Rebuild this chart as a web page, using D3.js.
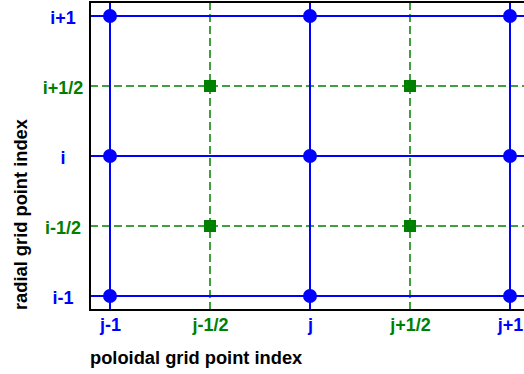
<!DOCTYPE html>
<html>
<head>
<meta charset="utf-8">
<script src="https://cdn.jsdelivr.net/npm/d3@7"></script>
<style>
  html, body { margin: 0; padding: 0; background: #fff; }
  svg { display: block; }
  text { font-family: "Liberation Sans", Arial, sans-serif; font-weight: bold; }
</style>
</head>
<body>
<svg id="chart" width="524" height="374"></svg>
<script>
// Staggered grid: integer nodes (blue) and half-index cell centres (green)
const nodeJ = [-1, 0, 1];
const nodeI = [-1, 0, 1];
const halfJ = [-0.5, 0.5];
const halfI = [-0.5, 0.5];

const xTickValues = [-1, -0.5, 0, 0.5, 1];
const xTickLabels = ["j-1", "j-1/2", "j", "j+1/2", "j+1"];
const yTickValues = [-1, -0.5, 0, 0.5, 1];
const yTickLabels = ["i-1", "i-1/2", "i", "i+1/2", "i+1"];

const xTitle = "poloidal grid point index";
const yTitle = "radial grid point index";

const BLUE = "#0000ff";
const GREEN = "#008000";

const svg = d3.select("#chart");

const x = d3.scaleLinear().domain([-1.1, 1.1]).range([90, 530]);
const y = d3.scaleLinear().domain([-1.1, 1.1]).range([310, 2]);

const [x0, x1] = x.range();
const [y0, y1] = y.range();

svg.append("defs").append("clipPath").attr("id", "plot-clip")
  .append("rect").attr("x", x0).attr("y", y1).attr("width", x1 - x0).attr("height", y0 - y1);

const plot = svg.append("g").attr("clip-path", "url(#plot-clip)");

const isHalf = v => Math.abs(v % 1) === 0.5;

// dashed half-index lines
plot.selectAll("line.hj").data(halfJ).join("line")
  .attr("x1", d => x(d)).attr("x2", d => x(d))
  .attr("y1", y0).attr("y2", y1)
  .attr("stroke", GREEN).attr("stroke-width", 1.5).attr("stroke-dasharray", "8,4");
plot.selectAll("line.hi").data(halfI).join("line")
  .attr("y1", d => y(d)).attr("y2", d => y(d))
  .attr("x1", x0).attr("x2", x1)
  .attr("stroke", GREEN).attr("stroke-width", 1.5).attr("stroke-dasharray", "8,4");

// solid node lines
plot.selectAll("line.nj").data(nodeJ).join("line")
  .attr("x1", d => x(d)).attr("x2", d => x(d))
  .attr("y1", y0).attr("y2", y1)
  .attr("stroke", BLUE).attr("stroke-width", 2);
plot.selectAll("line.ni").data(nodeI).join("line")
  .attr("y1", d => y(d)).attr("y2", d => y(d))
  .attr("x1", x0).attr("x2", x1)
  .attr("stroke", BLUE).attr("stroke-width", 2);

// node markers
const nodes = d3.cross(nodeJ, nodeI);
plot.selectAll("circle.node").data(nodes).join("circle")
  .attr("cx", d => x(d[0])).attr("cy", d => y(d[1]))
  .attr("r", 7).attr("fill", BLUE);

// half-index markers
const halves = d3.cross(halfJ, halfI);
const sq = 12;
plot.selectAll("rect.half").data(halves).join("rect")
  .attr("x", d => x(d[0]) - sq / 2).attr("y", d => y(d[1]) - sq / 2)
  .attr("width", sq).attr("height", sq).attr("fill", GREEN);

// frame
svg.append("rect")
  .attr("x", x0).attr("y", y1).attr("width", x1 - x0).attr("height", y0 - y1)
  .attr("fill", "none").attr("stroke", "#000").attr("stroke-width", 2);

// axes
const xAxis = d3.axisBottom(x).tickValues(xTickValues).tickSize(0)
  .tickFormat((d, i) => xTickLabels[i]);
const gx = svg.append("g").attr("transform", `translate(0,${y0})`).call(xAxis);
gx.select(".domain").remove();
gx.selectAll("text")
  .attr("y", 0).attr("dy", null)
  .attr("transform", "translate(0,21)")
  .attr("font-size", 18).attr("font-family", null)
  .attr("fill", d => isHalf(d) ? GREEN : BLUE);

const yAxis = d3.axisLeft(y).tickValues(yTickValues).tickSize(0)
  .tickFormat((d, i) => yTickLabels[i]);
const gy = svg.append("g").attr("transform", `translate(${x0},0)`).call(yAxis);
gy.select(".domain").remove();
gy.selectAll("text")
  .attr("x", -27).attr("dy", null).attr("y", 7)
  .attr("text-anchor", "middle")
  .attr("font-size", 18).attr("font-family", null)
  .attr("fill", d => isHalf(d) ? GREEN : BLUE);

// axis titles
svg.append("text")
  .attr("x", x0).attr("y", 364)
  .attr("font-size", 18.3).attr("fill", "#000")
  .text(xTitle);
svg.append("text")
  .attr("transform", `translate(27,${y0}) rotate(-90)`)
  .attr("font-size", 18.3).attr("fill", "#000")
  .text(yTitle);
</script>
</body>
</html>
